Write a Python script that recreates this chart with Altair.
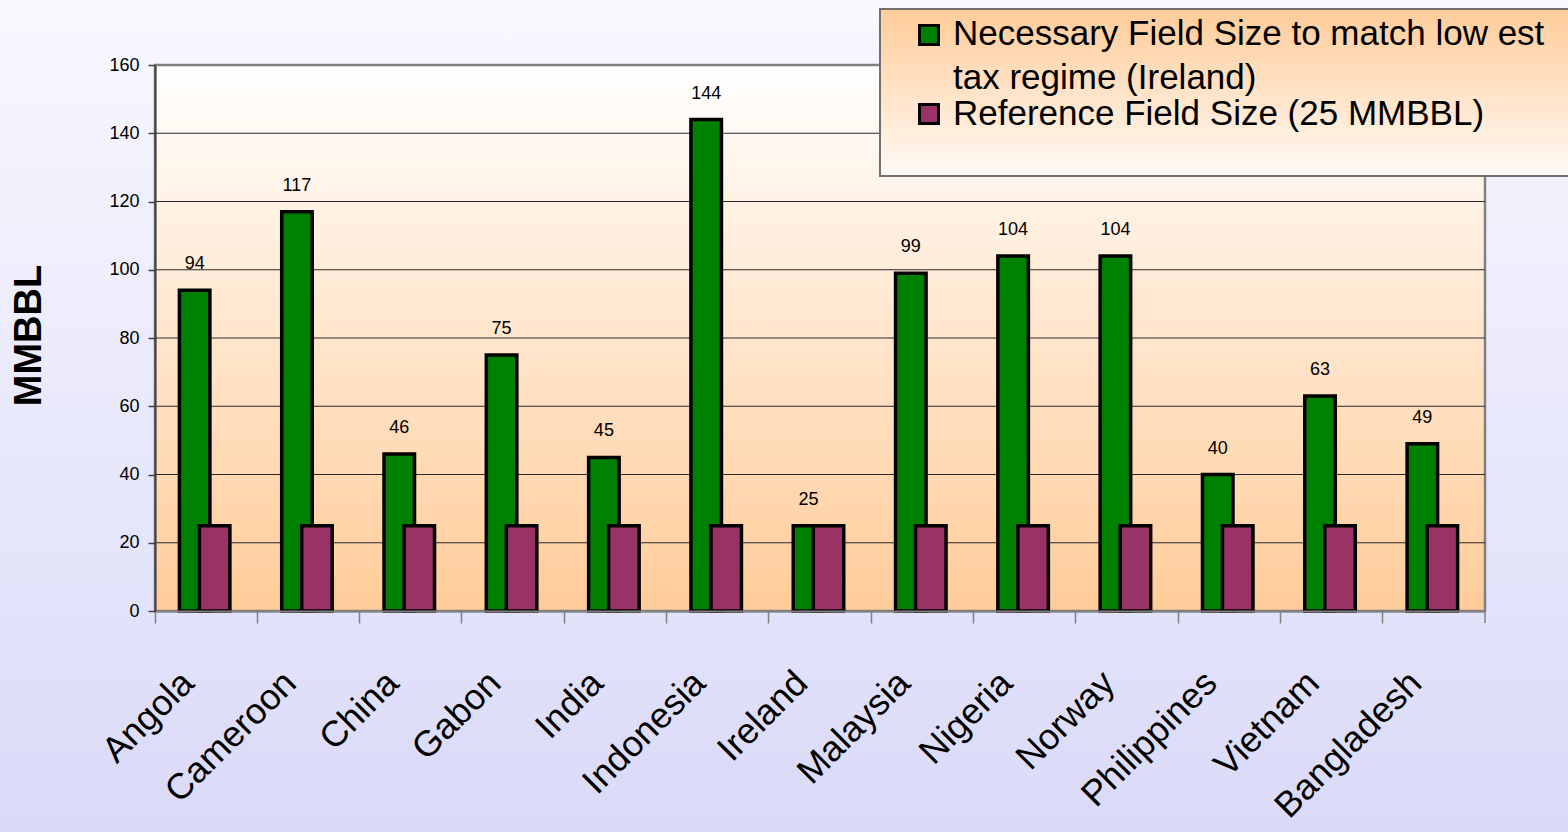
import altair as alt
import pandas as pd

countries = ["Angola", "Cameroon", "China", "Gabon", "India", "Indonesia", "Ireland",
             "Malaysia", "Nigeria", "Norway", "Philippines", "Vietnam", "Bangladesh"]
necessary = [94, 117, 46, 75, 45, 144, 25, 99, 104, 104, 40, 63, 49]
reference = [25, 25, 25, 25, 25, 25, 25, 25, 25, 25, 25, 25, 25]
y_ticks = [0, 20, 40, 60, 80, 100, 120, 140, 160]
series_names = ["Necessary Field Size to match low est\ntax regime (Ireland)",
                "Reference Field Size (25 MMBBL)"]
series_colors = ["#008000", "#993366"]

W, H = 1330, 546
PAD = {"left": 155, "top": 65, "right": 83, "bottom": 221}
FONT = "Liberation Sans"

df = pd.DataFrame({"country": countries, "necessary": necessary, "reference": reference})
grid_df = pd.DataFrame({"necessary": y_ticks[1:-1]})
one = alt.Data(values=[{"k": 1}])

xscale = alt.Scale(domain=countries, paddingInner=0, paddingOuter=0)
yscale = alt.Scale(domain=[0, 160], nice=False, zero=True)

def grad(stops):
    return alt.Gradient(gradient="linear", x1=0, x2=0, y1=0, y2=1,
                        stops=[alt.GradientStop(offset=o, color=c) for o, c in stops])

x_axis = alt.Axis(title=None, bandPosition=0, domainColor="#808080", domainWidth=2,
                  tickColor="#808080", tickWidth=1.5, tickSize=12,
                  labelAngle=-45, labelAlign="right", labelBaseline="middle",
                  labelFontSize=36, labelPadding=54, labelOffset=-18,
                  labelColor="black", labelLimit=0, labelOverlap=False,
                  labelFont=FONT, zindex=1)
y_axis = alt.Axis(title="MMBBL", values=y_ticks, grid=False, domainColor="#404040",
                  domainWidth=2, tickColor="#404040", tickWidth=1.5, tickSize=7,
                  labelFontSize=18, labelPadding=9, labelColor="black", labelFont=FONT,
                  titleFontSize=38, titleFontWeight="bold", titleFont=FONT,
                  titleColor="black", titleAngle=-90, titleX=-126, titleY=270,
                  titleAlign="center", titleBaseline="middle", zindex=1)

X = alt.X("country:N", sort=countries, scale=xscale, axis=x_axis)

page_bg = alt.Chart(one).mark_rect(
    fill=grad([(0, "#F8F8FF"), (1, "#DADAF8")])
).encode(x=alt.value(-PAD["left"]), x2=alt.value(W + PAD["right"]),
         y=alt.value(-PAD["top"]), y2=alt.value(H + PAD["bottom"]))

plot_bg = alt.Chart(one).mark_rect(
    fill=grad([(0, "#FFFFFF"), (1, "#FFCC99")]), stroke="#808080", strokeWidth=2.5
).encode(x=alt.value(0), x2=alt.value(W), y=alt.value(0), y2=alt.value(H))

grid = alt.Chart(grid_df).mark_rule(color="#2a2a2a", strokeWidth=1).encode(
    y=alt.Y("necessary:Q", scale=yscale, axis=y_axis)
)

green = alt.Chart(df).mark_bar(
    width=30.5, xOffset=-11.5, color=series_colors[0], stroke="black", strokeWidth=3.5
).encode(
    x=X,
    y=alt.Y("necessary:Q", scale=yscale, axis=y_axis),
)

purple = alt.Chart(df).mark_bar(
    width=30.5, xOffset=8.5, color=series_colors[1], stroke="black", strokeWidth=3.5
).encode(
    x=X,
    y=alt.Y("reference:Q", scale=yscale, axis=y_axis),
)

labels = alt.Chart(df).mark_text(
    xOffset=-11.5, dy=-21, baseline="alphabetic", align="center",
    fontSize=18, font=FONT, color="black"
).encode(
    x=X,
    y=alt.Y("necessary:Q", scale=yscale, axis=y_axis),
    text=alt.Text("necessary:Q", format="d"),
)

last_tick = alt.Chart(one).mark_rule(color="#808080", strokeWidth=1.5).encode(
    x=alt.value(W), y=alt.value(H), y2=alt.value(H + 12)
)

legend_box = alt.Chart(one).mark_rect(
    fill=grad([(0, "#FFCC99"), (1, "#FFFAF5")]), stroke="#707070", strokeWidth=2
).encode(x=alt.value(725), x2=alt.value(W + PAD["right"] + 10),
         y=alt.value(-56), y2=alt.value(111))

legend_sym1 = alt.Chart(one).mark_square(
    size=361, color=series_colors[0], stroke="black", strokeWidth=3, opacity=1
).encode(x=alt.value(774), y=alt.value(-30))
legend_sym2 = alt.Chart(one).mark_square(
    size=361, color=series_colors[1], stroke="black", strokeWidth=3, opacity=1
).encode(x=alt.value(774), y=alt.value(49))

legend_txt1 = alt.Chart(one).mark_text(
    align="left", baseline="alphabetic", fontSize=35, font=FONT, color="black",
    lineBreak="\n", lineHeight=44, text=series_names[0]
).encode(x=alt.value(798), y=alt.value(-20))
legend_txt2 = alt.Chart(one).mark_text(
    align="left", baseline="alphabetic", fontSize=35, font=FONT, color="black",
    text=series_names[1]
).encode(x=alt.value(798), y=alt.value(60))

chart = alt.layer(
    page_bg, plot_bg, grid, green, purple, labels, last_tick,
    legend_box, legend_sym1, legend_sym2, legend_txt1, legend_txt2
).properties(
    width=W, height=H, padding=PAD,
    autosize=alt.AutoSizeParams(type="none"),
    background="#E8E8FC",
).configure_view(stroke=None).configure(font=FONT)

chart.save("out.html", embed_options={"renderer": "svg", "actions": False})
